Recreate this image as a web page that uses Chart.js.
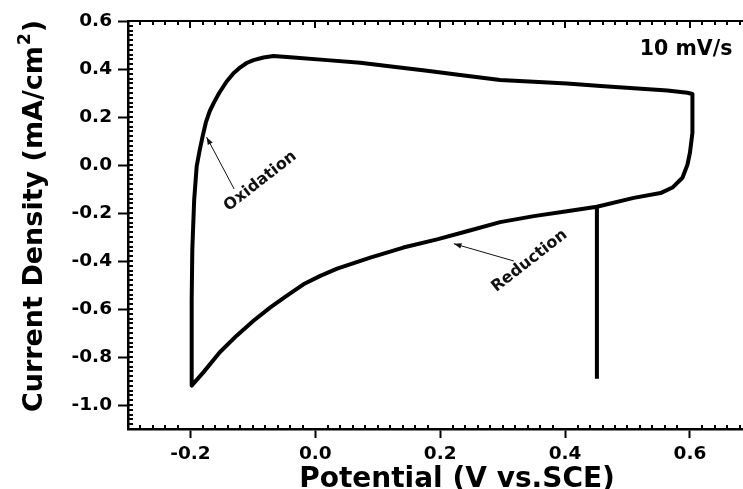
<!DOCTYPE html>
<html>
<head>
<meta charset="utf-8">
<script src="https://cdn.jsdelivr.net/npm/chart.js@4"></script>
<style>
  html, body { margin: 0; padding: 0; background: #fff; }
  #wrap { width: 743px; height: 489px; }
</style>
</head>
<body>
<div id="wrap"><canvas id="cv"></canvas></div>
<script>
// Curva CV, en orden de barrido
const POTENTIAL = [
    0.451, 0.451, 0.403, 0.350, 0.296, 0.243, 0.195, 0.141, 0.088, 0.035, 0.008, -0.019,
    -0.046, -0.072, -0.099, -0.126, -0.153, -0.179, -0.198,
    -0.198, -0.198, -0.197, -0.194, -0.190, -0.185, -0.180, -0.175, -0.169, -0.162, -0.154,
    -0.142, -0.131, -0.120, -0.110, -0.099, -0.083, -0.067, -0.035, 0.019, 0.072, 0.125,
    0.179, 0.232, 0.296, 0.350, 0.403, 0.457, 0.510, 0.564, 0.596, 0.604,
    0.604, 0.600, 0.596, 0.588, 0.572, 0.553, 0.510, 0.451
];
const CURRENT = [
    -0.891, -0.174, -0.193, -0.213, -0.238, -0.276, -0.310, -0.344, -0.386, -0.432, -0.462, -0.497,
    -0.545, -0.593, -0.649, -0.711, -0.780, -0.863, -0.919,
    -0.758, -0.559, -0.352, -0.144, -0.006, 0.064, 0.125, 0.180, 0.225, 0.262, 0.300,
    0.348, 0.382, 0.407, 0.425, 0.437, 0.448, 0.454, 0.448, 0.437, 0.426, 0.409,
    0.393, 0.375, 0.354, 0.347, 0.340, 0.329, 0.320, 0.310, 0.301, 0.296,
    0.134, 0.051, 0.001, -0.053, -0.094, -0.117, -0.137, -0.174
];

// Ejes
const X_TICKS = [-0.2, 0.0, 0.2, 0.4, 0.6];
const Y_TICKS = [-1.0, -0.8, -0.6, -0.4, -0.2, 0.0, 0.2, 0.4, 0.6];
const X_RANGE = [-0.3, 0.685];
const Y_RANGE = [-1.1, 0.6];
const MINOR_STEP = 0.02;

// Textos
const X_TITLE = 'Potential (V vs.SCE)';
const Y_TITLE = ['Current Density (mA/cm', '2', ')'];
const RATE_LABEL = '10 mV/s';
const NOTES = [
    { text: 'Oxidation', x: -0.088, y: -0.068, tail: [-0.130, -0.100], head: [-0.174, 0.116] },
    { text: 'Reduction', x: 0.343, y: -0.400, tail: [0.318, -0.400], head: [0.222, -0.328] }
];

const FONT = 'DejaVu Sans';

// Marco superior y marcas menores hacia dentro
const frameTicks = {
    id: 'frameTicks',
    afterDraw(chart) {
        const { ctx, chartArea: a, scales: { x, y } } = chart;
        ctx.save();
        ctx.strokeStyle = '#000';
        ctx.lineWidth = 2;
        ctx.beginPath();
        ctx.moveTo(a.left - 1, a.top);
        ctx.lineTo(a.right, a.top);
        ctx.stroke();

        ctx.lineWidth = 2;
        ctx.beginPath();
        const nx = Math.round((X_RANGE[1] - X_RANGE[0]) / MINOR_STEP);
        for (let i = 0; i <= nx; i++) {
            const v = X_RANGE[0] + i * MINOR_STEP;
            const px = Math.round(x.getPixelForValue(v));
            if (px < a.left + 2 || px > a.right) continue;
            const major = X_TICKS.some(t => Math.abs(t - v) < 1e-6);
            // abajo
            if (!major) { ctx.moveTo(px, a.bottom); ctx.lineTo(px, a.bottom - 4); }
            // arriba
            ctx.moveTo(px, a.top); ctx.lineTo(px, a.top + (major ? 7 : 4));
        }
        const ny = Math.round((Y_RANGE[1] - Y_RANGE[0]) / MINOR_STEP);
        for (let i = 0; i <= ny; i++) {
            const v = Y_RANGE[0] + i * MINOR_STEP;
            const py = Math.round(y.getPixelForValue(v));
            if (py > a.bottom - 2 || py < a.top + 2) continue;
            ctx.moveTo(a.left, py); ctx.lineTo(a.left + 5, py);
        }
        ctx.stroke();
        ctx.restore();
    }
};

// Títulos de ejes, velocidad de barrido y anotaciones
const labelsPlugin = {
    id: 'labels',
    afterDraw(chart) {
        const { ctx, chartArea: a, scales: { x, y } } = chart;
        ctx.save();
        ctx.fillStyle = '#000';

        // título X
        ctx.font = `bold 28px "${FONT}"`;
        ctx.textAlign = 'center';
        ctx.textBaseline = 'alphabetic';
        ctx.fillText(X_TITLE, 457, 487);

        // título Y con superíndice
        ctx.translate(42, 217);
        ctx.rotate(-Math.PI / 2);
        const big = `bold 27px "${FONT}"`, small = `bold 17px "${FONT}"`;
        ctx.font = big;
        const w1 = ctx.measureText(Y_TITLE[0]).width;
        const w3 = ctx.measureText(Y_TITLE[2]).width;
        ctx.font = small;
        const w2 = ctx.measureText(Y_TITLE[1]).width;
        let sx = -(w1 + w2 + w3) / 2;
        ctx.textAlign = 'left';
        ctx.font = big;
        ctx.fillText(Y_TITLE[0], sx, 0);
        ctx.font = small;
        ctx.fillText(Y_TITLE[1], sx + w1 + 1, -12);
        ctx.font = big;
        ctx.fillText(Y_TITLE[2], sx + w1 + w2 + 2, 0);
        ctx.setTransform(1, 0, 0, 1, 0, 0);

        // 10 mV/s
        ctx.font = `bold 20.5px "${FONT}"`;
        ctx.textAlign = 'right';
        ctx.textBaseline = 'middle';
        ctx.fillText(RATE_LABEL, x.getPixelForValue(0.668), y.getPixelForValue(0.480));

        // anotaciones
        NOTES.forEach(n => {
            const tx = x.getPixelForValue(n.tail[0]), ty = y.getPixelForValue(n.tail[1]);
            const hx = x.getPixelForValue(n.head[0]), hy = y.getPixelForValue(n.head[1]);
            ctx.strokeStyle = '#111';
            ctx.lineWidth = 1;
            ctx.beginPath();
            ctx.moveTo(tx, ty);
            ctx.lineTo(hx, hy);
            ctx.stroke();
            const ang = Math.atan2(hy - ty, hx - tx);
            ctx.fillStyle = '#111';
            ctx.beginPath();
            ctx.moveTo(hx, hy);
            ctx.lineTo(hx - 8 * Math.cos(ang - 0.35), hy - 8 * Math.sin(ang - 0.35));
            ctx.lineTo(hx - 8 * Math.cos(ang + 0.35), hy - 8 * Math.sin(ang + 0.35));
            ctx.closePath();
            ctx.fill();

            ctx.save();
            ctx.translate(x.getPixelForValue(n.x), y.getPixelForValue(n.y));
            ctx.rotate(-38 * Math.PI / 180);
            ctx.font = `bold 16px "${FONT}"`;
            ctx.textAlign = 'center';
            ctx.textBaseline = 'middle';
            ctx.fillText(n.text, 0, 0);
            ctx.restore();
        });
        ctx.restore();
    }
};

new Chart(document.getElementById('cv'), {
    type: 'line',
    data: {
        datasets: [{
            data: POTENTIAL.map((p, i) => ({ x: p, y: CURRENT[i] })),
            borderColor: '#000',
            borderWidth: 4,
            pointRadius: 0,
            tension: 0,
            fill: false,
            borderJoinStyle: 'round'
        }]
    },
    plugins: [frameTicks, labelsPlugin],
    options: {
        responsive: true,
        maintainAspectRatio: false,
        animation: false,
        layout: { padding: { top: 21, right: 0, left: 0, bottom: 0 } },
        plugins: { legend: { display: false }, tooltip: { enabled: false } },
        scales: {
            x: {
                type: 'linear',
                min: X_RANGE[0],
                max: X_RANGE[1],
                afterBuildTicks: s => { s.ticks = X_TICKS.map(v => ({ value: v })); },
                afterFit: s => { s.height = 60; },
                ticks: {
                    color: '#000',
                    padding: 5,
                    font: { family: FONT, weight: 'bold', size: 18.5 },
                    callback: v => v.toFixed(1)
                },
                grid: { drawOnChartArea: false, tickLength: 9, tickWidth: 2, tickColor: '#000' },
                border: { color: '#000', width: 2.5 }
            },
            y: {
                type: 'linear',
                min: Y_RANGE[0],
                max: Y_RANGE[1],
                afterBuildTicks: s => { s.ticks = Y_TICKS.map(v => ({ value: v })); },
                afterFit: s => { s.width = 128; },
                ticks: {
                    color: '#000',
                    padding: 6,
                    font: { family: FONT, weight: 'bold', size: 18.5 },
                    callback: v => v.toFixed(1)
                },
                grid: { drawOnChartArea: false, tickLength: 10, tickWidth: 2, tickColor: '#000' },
                border: { color: '#000', width: 2.5 }
            }
        }
    }
});
</script>
</body>
</html>
